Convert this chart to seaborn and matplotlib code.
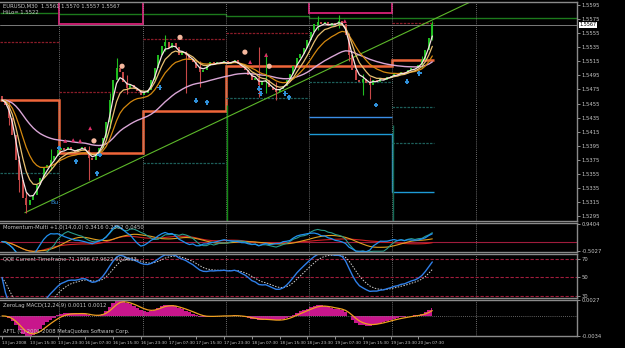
import numpy as np
import pandas as pd
import matplotlib
matplotlib.use("Agg")
import matplotlib.pyplot as plt
import matplotlib.transforms as mtrans
import seaborn as sns

# === 1. Daten (1-Stunden-Raster) ===
close = [1.5460, 1.5453, 1.5434, 1.5410, 1.5375, 1.5346, 1.5321, 1.5311, 1.5318, 1.5325,
         1.5339, 1.5349, 1.5363, 1.5368, 1.5375, 1.5380, 1.5389, 1.5392, 1.5389, 1.5393,
         1.5389, 1.5386, 1.5390, 1.5393, 1.5389, 1.5378, 1.5375, 1.5383, 1.5392, 1.5406,
         1.5429, 1.5460, 1.5488, 1.5505, 1.5500, 1.5486, 1.5477, 1.5481, 1.5477, 1.5473,
         1.5467, 1.5470, 1.5474, 1.5488, 1.5505, 1.5524, 1.5537, 1.5542, 1.5534, 1.5540,
         1.5535, 1.5524, 1.5528, 1.5524, 1.5517, 1.5514, 1.5505, 1.5500, 1.5503, 1.5508,
         1.5514, 1.5511, 1.5514, 1.5513, 1.5515, 1.5511, 1.5514, 1.5517, 1.5511, 1.5505,
         1.5503, 1.5496, 1.5488, 1.5491, 1.5481, 1.5486, 1.5488, 1.5478, 1.5474, 1.5471,
         1.5475, 1.5480, 1.5488, 1.5497, 1.5508, 1.5520, 1.5525, 1.5534, 1.5545, 1.5557,
         1.5567, 1.5571, 1.5568, 1.5571, 1.5565, 1.5569, 1.5567, 1.5572, 1.5568, 1.5552,
         1.5524, 1.5503, 1.5488, 1.5486, 1.5490, 1.5484, 1.5481, 1.5488, 1.5486, 1.5491,
         1.5488, 1.5493, 1.5494, 1.5497, 1.5496, 1.5500, 1.5498, 1.5503, 1.5505, 1.5505,
         1.5510, 1.5517, 1.5531, 1.5548, 1.5567]
open_first = 1.5466

# Dochte (nur auffaellige)
wick_bar = [2, 5, 7, 14, 25, 31, 33, 36, 47, 53, 57, 74, 76, 79, 91, 97, 100, 104, 106, 121, 124]
wick_hi = [1.5462, 1.5380, 1.5330, 1.5390, 1.5395, 1.5470, 1.5520, 1.5495, 1.5553, 1.5530, 1.5515,
           1.5535, 1.5527, 1.5485, 1.5580, 1.5581, 1.5555, 1.5497, 1.5492, 1.5522, 1.5572]
wick_lo = [1.5425, 1.5330, 1.5300, 1.5360, 1.5346, 1.5420, 1.5490, 1.5468, 1.5530, 1.5470, 1.5478,
           1.5464, 1.5470, 1.5460, 1.5560, 1.5562, 1.5515, 1.5467, 1.5462, 1.5505, 1.5545]

# Tageslevels (Grenzen in Balken)
day_edges = [-0.6, 16.5, 40.5, 64.5, 88.5, 112.5, 124.5]
orange_lvl = [1.5460, 1.5385, 1.5444, 1.5508, 1.5508, 1.5517]
pink_lvl = [1.5615, 1.5568, 1.5615, 1.5599, 1.5584, 1.5615]
darkred_lvl = [1.5542, 1.5471, 1.5547, 1.5555, np.nan, 1.5569]
teal_lvl = [1.5356, np.nan, 1.5371, 1.5463, 1.5486, 1.5450]
teal_lvl2 = [np.nan, np.nan, np.nan, np.nan, np.nan, 1.5399]
blue_lvl = [np.nan, np.nan, np.nan, np.nan, 1.5436, np.nan]
cyan_lvl = [np.nan, np.nan, np.nan, np.nan, 1.5412, 1.5329]
green_edges = [-0.6, 16.5, 40.5, 64.5, 88.5, 165.7]
green_lvl = [1.5584, 1.5582, 1.5582, 1.5580, 1.5576]
green_vx = [64.8, 112.7]
green_vtop = [1.5453, 1.5424]

trend_x = [6.6, 140.0]
trend_y = [1.5300, 1.5611]
bid = 1.5567

peach_x = [26.5, 34.6, 51.3, 70.0, 77.0]
peach_y = [1.5402, 1.5508, 1.5549, 1.5528, 1.5508]
plus_x = [16.4, 21.3, 28.2, 27.4, 45.5, 55.9, 59.1, 74.1, 74.6, 81.6, 82.7, 107.8, 116.7, 120.2]
plus_y = [1.5392, 1.5373, 1.5382, 1.5356, 1.5478, 1.5459, 1.5457, 1.5476, 1.5469, 1.5469,
          1.5464, 1.5453, 1.5486, 1.5498]
arrow_x = [18.2, 20.5, 22.5, 25.4, 71.5, 76.1, 98.8]
arrow_y = [1.5402, 1.5403, 1.5402, 1.5420, 1.5514, 1.5524, 1.5572]

price_ticks = [1.5595, 1.5575, 1.5555, 1.5535, 1.5515, 1.5495, 1.5475, 1.5455, 1.5435,
               1.5415, 1.5395, 1.5375, 1.5355, 1.5335, 1.5315, 1.5295]
time_labels = ["13 Jun 2008", "13 Jun 15:30", "13 Jun 23:30", "16 Jun 07:30", "16 Jun 15:30",
               "16 Jun 23:30", "17 Jun 07:30", "17 Jun 15:30", "17 Jun 23:30", "18 Jun 07:30",
               "18 Jun 15:30", "18 Jun 23:30", "19 Jun 07:30", "19 Jun 15:30", "19 Jun 23:30",
               "20 Jun 07:30"]
day_sep = [16.5, 40.5, 64.5, 88.5, 112.5, 136.5]

# === 2. Indikatoren aus den Kursen ===
s = pd.Series(close)
x = np.arange(len(close))
opn = s.shift(1).fillna(open_first)
ema_fast = s.ewm(span=3, adjust=False).mean()
ema_tan = s.ewm(span=6, adjust=False).mean()
ema_org = s.ewm(span=12, adjust=False).mean()
ema_slow = s.ewm(span=36, adjust=False).mean()

mom_blue = (s / s.shift(7).fillna(s.iloc[0]) - 1) * 100
mom_teal = (s / s.shift(12).fillna(s.iloc[0]) - 1) * 100
mom_red = mom_blue.rolling(24, min_periods=1).mean()
mom_orange = mom_blue.rolling(12, min_periods=1).mean()

d = s.diff().fillna(0)
gain = d.clip(lower=0).ewm(alpha=1 / 14, adjust=False).mean()
loss = (-d.clip(upper=0)).ewm(alpha=1 / 14, adjust=False).mean()
rsi = (100 - 100 / (1 + gain / loss.replace(0, np.nan))).fillna(50)
qqe_blue = rsi.ewm(span=5, adjust=False).mean()
qqe_white = qqe_blue.ewm(span=5, adjust=False).mean()

macd = s.ewm(span=6, adjust=False).mean() - s.ewm(span=12, adjust=False).mean()
signal = macd.ewm(span=4, adjust=False).mean()

# === 3. Layout ===
sns.set_style("dark", {"axes.facecolor": "black", "figure.facecolor": "black",
                       "axes.edgecolor": "#808080", "axes.grid": False})
plt.rcParams["font.family"] = ["Liberation Sans Narrow", "DejaVu Sans"]

W, H = 625, 348
fig = plt.figure(figsize=(W / 100, H / 100), dpi=100, facecolor="black")
XL = (-0.58, 165.7)
GRAY = "#c8c8c8"
FS = 3.8


def px_axes(top, bottom):
    ax = fig.add_axes([0, 1 - bottom / H, 577 / W, (bottom - top) / H])
    ax.set_facecolor("black")
    ax.set_xlim(*XL)
    for sp in ax.spines.values():
        sp.set_color("#8a8a8a")
        sp.set_linewidth(1.0)
    ax.spines["left"].set_visible(False)
    ax.yaxis.tick_right()
    ax.tick_params(axis="y", colors=GRAY, labelsize=FS, length=2, width=0.5, pad=1.5)
    ax.tick_params(axis="x", bottom=False, labelbottom=False)
    for xs in day_sep:
        ax.axvline(xs, color="#909090", lw=0.6, ls=(0, (1, 1.5)))
    return ax


def ftext(xp, yp, txt, **kw):
    fig.text(xp / W, 1 - yp / H, txt, fontsize=FS, color=GRAY, va="center", **kw)


# --- Hauptchart ---
ax = px_axes(2, 221)
ax.set_ylim(1.52882, 1.55992)
ax.set_yticks(price_ticks)
ax.set_yticklabels([f"{v:.4f}" for v in price_ticks])

ax.stairs(green_lvl, green_edges, baseline=None, color="#1c7a1c", lw=1.0)
ax.stairs(pink_lvl, day_edges, baseline=None, color="#c81e6e", lw=1.4)
for i in range(6):
    a, b = day_edges[i], day_edges[i + 1]
    ax.hlines(darkred_lvl[i], a, b, color="#8a1c28", lw=0.9, ls=(0, (2, 1)))
    ax.hlines(teal_lvl[i], a, b, color="#1d5f5a", lw=0.9, ls=(0, (2, 1)))
    ax.hlines(teal_lvl2[i], a, b, color="#1d5f5a", lw=0.9, ls=(0, (2, 1)))
    ax.hlines(blue_lvl[i], a, b, color="#3a8ee6", lw=1.0)
ax.stairs(cyan_lvl[4:], day_edges[4:], baseline=None, color="#1e9ad6", lw=1.0)
ax.vlines(green_vx, ax.get_ylim()[0], green_vtop, colors=["#128a12", "#146a56"], lw=1.0)
ax.axhline(bid, color="#7a7a7a", lw=0.7)
sns.lineplot(x=trend_x, y=trend_y, ax=ax, color="#5db82a", lw=0.8)
ax.stairs(orange_lvl, day_edges, baseline=None, color="#f0663a", lw=1.8)

up = s >= opn
bar_col = np.where(up, "#20c020", "#c84848")
ax.vlines(x, np.minimum(opn, s), np.maximum(opn, s) + 0.00003, colors=bar_col, lw=1.4)
wcol = [bar_col[i] for i in wick_bar]
ax.vlines(wick_bar, wick_lo, wick_hi, colors=wcol, lw=0.8)

sns.lineplot(x=x, y=ema_slow, ax=ax, color="#d9a6d6", lw=1.0)
sns.lineplot(x=x, y=ema_org, ax=ax, color="#d4880f", lw=0.9)
sns.lineplot(x=x, y=ema_tan, ax=ax, color="#e8c070", lw=0.9)
sns.lineplot(x=x, y=ema_fast, ax=ax, color="#f6e4e4", lw=0.9)

sns.scatterplot(x=peach_x, y=peach_y, ax=ax, color="#f5b89e", s=14, edgecolor="none", zorder=5)
sns.scatterplot(x=plus_x, y=plus_y, ax=ax, color="#2f8fd8", marker="P", s=12,
                edgecolor="none", zorder=5)
sns.scatterplot(x=arrow_x, y=arrow_y, ax=ax, color="#e0306a", marker="^", s=8,
                edgecolor="none", zorder=5)
ax.text(14.0, 1.5314, "Bu", color="#2f8fd8", fontsize=4.5, va="center")

tr = mtrans.blended_transform_factory(ax.transAxes, ax.transData)
ax.text(1.004, bid, f"{bid:.4f}", transform=tr, fontsize=FS - 0.3, color="black", va="center",
        bbox=dict(fc="white", ec="none", pad=0.4))
ftext(3, 6, "EURUSD,M30  1.5561 1.5570 1.5557 1.5567")
ftext(3, 13, "HiLo= 1.5522")

# --- Momentum-Multi ---
ax1 = px_axes(223, 252)
ax1.set_ylim(-0.56, 0.99)
ax1.set_yticks([-0.5027, 0.9404])
ax1.set_yticklabels(["-0.5027", "0.9404"])
ax1.axhline(0, color="#a01c3c", lw=0.8)
sns.lineplot(x=x, y=mom_red, ax=ax1, color="#d02020", lw=0.8)
sns.lineplot(x=x, y=mom_orange, ax=ax1, color="#e0a020", lw=0.8)
sns.lineplot(x=x, y=mom_teal, ax=ax1, color="#2a9a8a", lw=0.8)
sns.lineplot(x=x, y=mom_blue, ax=ax1, color="#2090f0", lw=0.9)
ftext(3, 228, "Momentum-Multi +1.0(14,0,0) 0.3416 0.2352 0.0450")

# --- QQE ---
ax2 = px_axes(254, 298)
ax2.set_ylim(27.8, 75.4)
ax2.set_yticks([30, 50, 70])
ax2.set_yticklabels(["30", "50", "70"])
for lv in (30, 50, 70):
    ax2.axhline(lv, color="#a01c3c", lw=0.8, ls=(0, (3, 1.5)))
sns.lineplot(x=x, y=qqe_white, ax=ax2, color="#d0d0d0", lw=0.7, ls=(0, (1.5, 1.5)))
sns.lineplot(x=x, y=qqe_blue, ax=ax2, color="#2f7fe8", lw=1.0)
ftext(3, 259, "QQE Current Timeframe 71.1996 67.9622 60.9633")

# --- ZeroLag MACD ---
ax3 = px_axes(300, 336)
ax3.set_ylim(-0.0034, 0.0027)
ax3.set_yticks([-0.0034, 0.0027])
ax3.set_yticklabels(["-0.0034", "0.0027"])
ax3.axhline(0, color="#808080", lw=0.6, ls=(0, (1, 1.5)))
ax3.fill_between(x, 0, macd, step="mid", color="#c8168c", lw=0)
sns.lineplot(x=x, y=signal, ax=ax3, color="#f0a020", lw=0.9)
ftext(3, 305, "ZeroLag MACD(12,24,9) 0.0011 0.0012")
ftext(3, 331, "AFTL (C) 2001-2008 MetaQuotes Software Corp.")

ax3.set_xticks(np.arange(0, 121, 8))
ax3.set_xticklabels(time_labels)
ax3.tick_params(axis="x", bottom=True, labelbottom=True, colors=GRAY, labelsize=3.0,
                length=2, width=0.5, pad=1.5)
for lb in ax3.get_xticklabels():
    lb.set_horizontalalignment("left")

for a in (ax, ax1, ax2, ax3):
    a.set_xlabel("")
    a.set_ylabel("")
    a.set_xlim(*XL)

fig.savefig("out.png", dpi=100, facecolor="black")
